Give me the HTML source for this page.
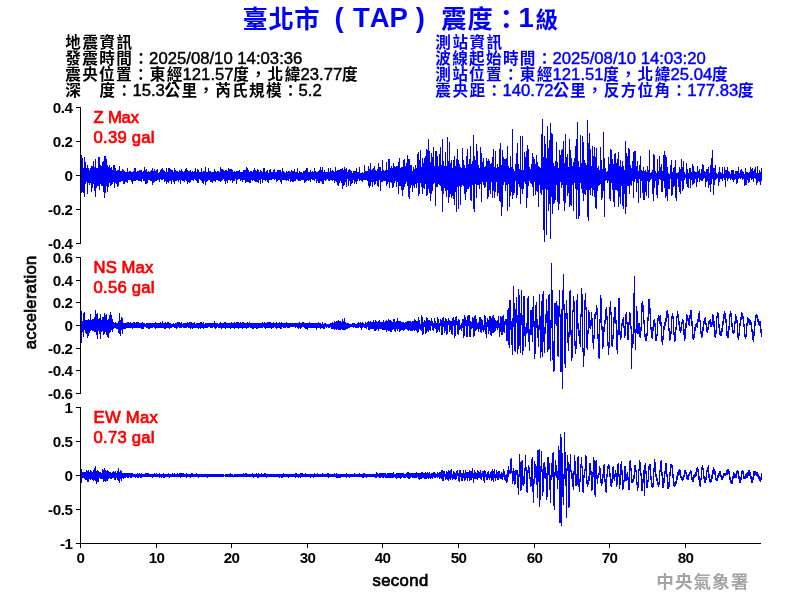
<!DOCTYPE html>
<html><head><meta charset="utf-8"><title>TAP</title>
<style>
html,body{margin:0;padding:0;background:#fff;}
svg{display:block;will-change:transform;font-family:"Liberation Sans",sans-serif;font-kerning:none;}
text{white-space:pre;}
.cjk{font-family:"Liberation Sans","Noto Sans CJK TC",sans-serif;font-weight:bold;}
</style></head><body>
<svg width="800" height="600" viewBox="0 0 800 600">
<rect width="800" height="600" fill="#fff"/>
<path d="M81.5 155V193M82.5 158V192M83.5 168V193M84.5 157V197M85.5 162V184M86.5 168V182M87.5 165V194M88.5 168V183M89.5 170V185M90.5 168V183M91.5 166V192M92.5 166V188M93.5 161V184M94.5 167V191M95.5 159V197M96.5 168V188M97.5 168V186M98.5 157V186M99.5 157V190M100.5 165V184M101.5 166V186M102.5 162V186M103.5 161V192M104.5 156V198M105.5 156V193M106.5 159V186M107.5 165V192M108.5 167V187M109.5 165V183M110.5 168V186M111.5 167V185M112.5 170V184M113.5 165V182M114.5 165V188M115.5 168V183M116.5 171V184M117.5 170V187M118.5 170V186M119.5 166V182M120.5 171V182M121.5 171V181M122.5 169V181M123.5 170V184M124.5 171V184M125.5 172V182M126.5 172V182M127.5 168V183M128.5 172V180M129.5 171V180M130.5 171V180M131.5 172V182M132.5 172V184M133.5 171V181M134.5 168V181M135.5 168V181M136.5 172V180M137.5 171V180M138.5 171V181M139.5 170V181M140.5 170V181M141.5 170V182M142.5 172V179M143.5 171V181M144.5 167V181M145.5 170V184M146.5 169V184M147.5 172V183M148.5 171V180M149.5 172V180M150.5 171V181M151.5 170V181M152.5 168V185M153.5 171V183M154.5 169V182M155.5 171V181M156.5 170V181M157.5 169V180M158.5 173V180M159.5 172V182M160.5 170V179M161.5 169V180M162.5 168V180M163.5 170V179M164.5 171V182M165.5 172V181M166.5 168V184M167.5 172V182M168.5 168V183M169.5 168V181M170.5 169V181M171.5 170V184M172.5 170V180M173.5 172V182M174.5 168V184M175.5 170V181M176.5 171V181M177.5 171V180M178.5 172V182M179.5 170V180M180.5 171V184M181.5 169V180M182.5 171V181M183.5 172V181M184.5 171V182M185.5 169V180M186.5 168V181M187.5 170V184M188.5 171V182M189.5 171V183M190.5 170V182M191.5 172V180M192.5 171V180M193.5 172V181M194.5 171V179M195.5 168V180M196.5 172V181M197.5 169V183M198.5 170V183M199.5 172V179M200.5 172V180M201.5 168V181M202.5 172V183M203.5 171V184M204.5 171V181M205.5 167V185M206.5 172V182M207.5 172V181M208.5 168V180M209.5 171V180M210.5 171V182M211.5 172V182M212.5 172V183M213.5 172V181M214.5 169V181M215.5 171V182M216.5 172V180M217.5 171V180M218.5 171V181M219.5 172V181M220.5 167V182M221.5 169V181M222.5 169V180M223.5 170V179M224.5 171V181M225.5 170V184M226.5 170V181M227.5 171V183M228.5 168V180M229.5 169V180M230.5 169V181M231.5 169V180M232.5 170V183M233.5 172V181M234.5 171V181M235.5 172V179M236.5 171V184M237.5 171V180M238.5 171V179M239.5 170V179M240.5 172V181M241.5 172V180M242.5 172V182M243.5 170V180M244.5 170V180M245.5 170V183M246.5 167V182M247.5 168V182M248.5 170V182M249.5 172V183M250.5 171V183M251.5 171V180M252.5 172V181M253.5 170V180M254.5 168V181M255.5 170V182M256.5 171V182M257.5 169V182M258.5 170V183M259.5 172V180M260.5 170V184M261.5 171V179M262.5 172V183M263.5 168V180M264.5 168V180M265.5 172V181M266.5 171V180M267.5 170V182M268.5 173V183M269.5 170V180M270.5 169V180M271.5 172V180M272.5 172V179M273.5 170V179M274.5 169V180M275.5 172V179M276.5 172V182M277.5 170V181M278.5 170V180M279.5 170V180M280.5 170V182M281.5 172V184M282.5 168V180M283.5 171V180M284.5 172V180M285.5 173V180M286.5 171V181M287.5 172V180M288.5 171V181M289.5 171V179M290.5 172V182M291.5 170V181M292.5 171V182M293.5 171V182M294.5 169V181M295.5 172V181M296.5 172V179M297.5 168V180M298.5 173V181M299.5 171V181M300.5 172V181M301.5 172V180M302.5 173V180M303.5 171V180M304.5 171V183M305.5 170V182M306.5 168V181M307.5 168V180M308.5 172V181M309.5 172V180M310.5 170V182M311.5 172V179M312.5 171V180M313.5 172V180M314.5 168V181M315.5 171V179M316.5 172V183M317.5 172V181M318.5 171V183M319.5 170V183M320.5 167V181M321.5 170V182M322.5 167V184M323.5 172V184M324.5 170V180M325.5 172V181M326.5 172V180M327.5 172V179M328.5 168V181M329.5 172V181M330.5 168V180M331.5 171V180M332.5 170V181M333.5 171V180M334.5 172V183M335.5 167V181M336.5 171V182M337.5 170V185M338.5 170V186M339.5 170V183M340.5 169V181M341.5 169V183M342.5 168V189M343.5 170V186M344.5 167V185M345.5 169V182M346.5 168V187M347.5 172V179M348.5 170V186M349.5 169V181M350.5 170V186M351.5 171V184M352.5 173V183M353.5 171V180M354.5 171V184M355.5 171V182M356.5 168V184M357.5 172V181M358.5 172V179M359.5 167V181M360.5 173V180M361.5 173V181M362.5 172V182M363.5 173V180M364.5 165V180M365.5 171V180M366.5 171V180M367.5 171V181M368.5 166V186M369.5 169V188M370.5 163V186M371.5 170V182M372.5 169V187M373.5 168V182M374.5 166V185M375.5 170V184M376.5 171V181M377.5 169V186M378.5 163V187M379.5 167V180M380.5 167V191M381.5 171V182M382.5 160V182M383.5 170V181M384.5 171V181M385.5 170V181M386.5 162V186M387.5 170V184M388.5 159V182M389.5 159V188M390.5 168V182M391.5 166V183M392.5 168V188M393.5 163V187M394.5 166V183M395.5 167V181M396.5 166V187M397.5 166V182M398.5 162V194M399.5 158V186M400.5 168V186M401.5 167V190M402.5 167V196M403.5 160V190M404.5 159V187M405.5 166V184M406.5 163V182M407.5 155V186M408.5 159V197M409.5 159V199M410.5 165V188M411.5 165V185M412.5 171V192M413.5 167V186M414.5 169V188M415.5 165V184M416.5 168V188M417.5 154V183M418.5 152V196M419.5 160V194M420.5 150V183M421.5 167V187M422.5 158V194M423.5 163V188M424.5 158V189M425.5 156V184M426.5 149V196M427.5 150V195M428.5 139V189M429.5 151V193M430.5 162V201M431.5 153V194M432.5 157V191M433.5 147V184M434.5 166V183M435.5 151V206M436.5 151V187M437.5 156V187M438.5 166V184M439.5 154V185M440.5 147V186M441.5 165V191M442.5 139V212M443.5 161V194M444.5 166V188M445.5 152V191M446.5 166V197M447.5 137V190M448.5 161V203M449.5 142V197M450.5 163V194M451.5 160V198M452.5 168V196M453.5 160V199M454.5 156V205M455.5 166V192M456.5 159V212M457.5 149V187M458.5 160V209M459.5 164V186M460.5 167V205M461.5 168V187M462.5 148V185M463.5 160V186M464.5 165V194M465.5 168V200M466.5 156V192M467.5 149V189M468.5 164V189M469.5 159V187M470.5 146V200M471.5 164V201M472.5 161V185M473.5 135V209M474.5 156V212M475.5 160V184M476.5 144V198M477.5 151V185M478.5 165V185M479.5 168V189M480.5 147V184M481.5 153V202M482.5 162V182M483.5 158V185M484.5 167V188M485.5 166V187M486.5 158V182M487.5 161V199M488.5 159V197M489.5 161V190M490.5 164V194M491.5 163V182M492.5 157V198M493.5 149V191M494.5 167V198M495.5 151V192M496.5 168V182M497.5 164V196M498.5 167V193M499.5 149V201M500.5 143V202M501.5 165V216M502.5 150V207M503.5 157V185M504.5 159V182M505.5 159V191M506.5 158V185M507.5 146V211M508.5 166V184M509.5 168V207M510.5 156V196M511.5 167V192M512.5 129V199M513.5 169V195M514.5 171V193M515.5 164V181M516.5 153V198M517.5 143V195M518.5 164V184M519.5 169V187M520.5 136V204M521.5 170V189M522.5 136V194M523.5 170V189M524.5 152V182M525.5 157V184M526.5 151V208M527.5 145V198M528.5 149V186M529.5 167V181M530.5 169V183M531.5 164V184M532.5 153V187M533.5 157V196M534.5 159V182M535.5 164V195M536.5 155V191M537.5 162V192M538.5 166V207M539.5 167V185M540.5 168V193M541.5 134V195M542.5 119V190M543.5 157V230M544.5 136V242M545.5 144V189M546.5 158V235M547.5 126V190M548.5 148V211M549.5 140V204M550.5 123V239M551.5 133V197M552.5 134V214M553.5 163V204M554.5 166V203M555.5 161V200M556.5 142V185M557.5 162V202M558.5 168V210M559.5 150V204M560.5 155V182M561.5 150V188M562.5 149V185M563.5 141V201M564.5 163V211M565.5 134V203M566.5 157V185M567.5 154V196M568.5 167V193M569.5 139V207M570.5 150V205M571.5 158V206M572.5 166V185M573.5 162V211M574.5 158V183M575.5 146V189M576.5 139V219M577.5 122V190M578.5 161V219M579.5 167V216M580.5 135V183M581.5 163V189M582.5 136V193M583.5 142V201M584.5 160V194M585.5 163V195M586.5 165V190M587.5 120V217M588.5 143V221M589.5 133V190M590.5 149V195M591.5 166V188M592.5 146V196M593.5 156V190M594.5 147V197M595.5 157V208M596.5 148V209M597.5 168V191M598.5 166V186M599.5 170V185M600.5 147V184M601.5 160V200M602.5 169V198M603.5 132V191M604.5 158V217M605.5 168V181M606.5 172V180M607.5 171V183M608.5 157V181M609.5 164V199M610.5 149V201M611.5 150V183M612.5 159V190M613.5 164V202M614.5 154V207M615.5 153V190M616.5 163V190M617.5 159V191M618.5 152V207M619.5 166V197M620.5 160V204M621.5 167V186M622.5 161V206M623.5 166V209M624.5 170V194M625.5 141V214M626.5 153V207M627.5 156V186M628.5 148V186M629.5 149V194M630.5 165V185M631.5 168V186M632.5 161V181M633.5 152V198M634.5 151V182M635.5 151V179M636.5 166V192M637.5 161V183M638.5 171V203M639.5 165V179M640.5 156V198M641.5 170V181M642.5 171V193M643.5 167V200M644.5 171V200M645.5 170V192M646.5 172V196M647.5 166V181M648.5 170V198M649.5 150V182M650.5 173V180M651.5 172V179M652.5 170V194M653.5 154V201M654.5 155V188M655.5 171V181M656.5 173V195M657.5 159V198M658.5 171V185M659.5 156V179M660.5 167V180M661.5 164V192M662.5 171V192M663.5 155V181M664.5 151V188M665.5 155V198M666.5 157V196M667.5 167V201M668.5 173V189M669.5 174V189M670.5 165V179M671.5 160V196M672.5 172V195M673.5 168V187M674.5 167V186M675.5 160V198M676.5 173V201M677.5 173V179M678.5 172V187M679.5 167V192M680.5 169V194M681.5 159V181M682.5 167V191M683.5 161V189M684.5 172V180M685.5 174V178M686.5 163V184M687.5 169V187M688.5 173V188M689.5 168V179M690.5 168V188M691.5 172V180M692.5 164V185M693.5 166V184M694.5 171V183M695.5 172V179M696.5 172V187M697.5 166V182M698.5 171V178M699.5 169V182M700.5 173V180M701.5 169V181M702.5 164V181M703.5 165V179M704.5 171V178M705.5 172V187M706.5 169V182M707.5 169V181M708.5 167V188M709.5 173V185M710.5 165V192M711.5 158V184M712.5 150V179M713.5 168V195M714.5 168V185M715.5 165V180M716.5 173V179M717.5 174V178M718.5 172V186M719.5 167V182M720.5 172V179M721.5 173V179M722.5 167V181M723.5 174V178M724.5 167V180M725.5 170V187M726.5 170V178M727.5 167V181M728.5 171V179M729.5 172V178M730.5 174V180M731.5 170V179M732.5 170V180M733.5 170V182M734.5 174V180M735.5 171V179M736.5 171V184M737.5 171V183M738.5 167V179M739.5 173V178M740.5 170V179M741.5 169V178M742.5 171V180M743.5 172V179M744.5 174V186M745.5 168V185M746.5 172V185M747.5 172V180M748.5 173V183M749.5 172V182M750.5 167V178M751.5 169V180M752.5 168V179M753.5 171V182M754.5 169V178M755.5 167V179M756.5 173V185M757.5 166V183M758.5 173V181M759.5 170V182M760.5 172V185M761.5 168V181" stroke="#0000ff" stroke-width="1" fill="none" shape-rendering="crispEdges"/><path d="M81.5 311V343M82.5 321V332M83.5 313V337M84.5 312V330M85.5 320V333M86.5 320V334M87.5 320V338M88.5 319V336M89.5 320V333M90.5 314V331M91.5 320V330M92.5 319V331M93.5 319V331M94.5 317V332M95.5 310V332M96.5 314V335M97.5 313V339M98.5 319V331M99.5 318V334M100.5 314V339M101.5 320V332M102.5 317V331M103.5 317V335M104.5 313V334M105.5 315V332M106.5 314V335M107.5 320V337M108.5 319V338M109.5 315V333M110.5 312V332M111.5 315V330M112.5 319V332M113.5 322V329M114.5 323V328M115.5 322V328M116.5 323V329M117.5 323V329M118.5 321V333M119.5 313V334M120.5 320V336M121.5 317V330M122.5 318V334M123.5 323V329M124.5 323V329M125.5 323V329M126.5 323V328M127.5 322V328M128.5 322V328M129.5 323V328M130.5 322V328M131.5 323V328M132.5 323V329M133.5 322V328M134.5 322V328M135.5 323V328M136.5 322V328M137.5 322V328M138.5 322V328M139.5 323V328M140.5 323V328M141.5 323V329M142.5 322V329M143.5 323V329M144.5 323V327M145.5 324V327M146.5 323V328M147.5 323V328M148.5 323V329M149.5 323V329M150.5 323V328M151.5 323V328M152.5 323V328M153.5 323V327M154.5 323V328M155.5 322V329M156.5 323V328M157.5 323V328M158.5 323V328M159.5 323V328M160.5 322V328M161.5 323V328M162.5 321V328M163.5 323V328M164.5 323V329M165.5 322V329M166.5 323V328M167.5 322V328M168.5 322V328M169.5 323V329M170.5 323V328M171.5 324V328M172.5 324V327M173.5 323V327M174.5 324V328M175.5 323V328M176.5 323V329M177.5 322V328M178.5 322V327M179.5 322V328M180.5 323V328M181.5 322V328M182.5 324V327M183.5 323V328M184.5 323V328M185.5 323V328M186.5 323V328M187.5 322V327M188.5 323V328M189.5 322V328M190.5 322V329M191.5 322V328M192.5 323V329M193.5 323V328M194.5 322V328M195.5 324V328M196.5 323V328M197.5 323V328M198.5 323V329M199.5 323V328M200.5 322V329M201.5 322V328M202.5 323V328M203.5 322V329M204.5 324V328M205.5 323V328M206.5 323V328M207.5 323V328M208.5 323V327M209.5 323V327M210.5 323V328M211.5 323V328M212.5 323V328M213.5 323V327M214.5 321V328M215.5 323V329M216.5 323V328M217.5 323V327M218.5 324V328M219.5 323V328M220.5 322V328M221.5 323V329M222.5 323V328M223.5 323V328M224.5 322V328M225.5 322V329M226.5 323V328M227.5 323V328M228.5 323V328M229.5 323V328M230.5 323V329M231.5 322V328M232.5 323V328M233.5 323V328M234.5 322V329M235.5 323V328M236.5 322V328M237.5 322V328M238.5 322V329M239.5 323V328M240.5 322V328M241.5 323V328M242.5 322V329M243.5 322V328M244.5 323V328M245.5 323V328M246.5 323V329M247.5 322V328M248.5 323V328M249.5 322V327M250.5 323V328M251.5 323V328M252.5 323V329M253.5 323V329M254.5 323V328M255.5 323V328M256.5 323V329M257.5 323V329M258.5 323V328M259.5 323V328M260.5 323V328M261.5 323V328M262.5 322V328M263.5 323V327M264.5 322V328M265.5 323V329M266.5 323V328M267.5 322V328M268.5 322V328M269.5 322V328M270.5 322V328M271.5 323V329M272.5 323V328M273.5 322V328M274.5 323V327M275.5 323V328M276.5 322V329M277.5 323V328M278.5 323V328M279.5 322V328M280.5 323V329M281.5 322V329M282.5 323V327M283.5 323V328M284.5 323V328M285.5 323V328M286.5 322V327M287.5 323V328M288.5 323V328M289.5 323V328M290.5 323V327M291.5 323V327M292.5 323V327M293.5 323V327M294.5 323V327M295.5 323V328M296.5 323V327M297.5 323V328M298.5 323V329M299.5 322V328M300.5 323V329M301.5 323V328M302.5 322V327M303.5 322V327M304.5 323V328M305.5 323V329M306.5 323V329M307.5 323V330M308.5 323V328M309.5 322V328M310.5 323V328M311.5 323V328M312.5 323V328M313.5 323V328M314.5 323V328M315.5 323V328M316.5 323V330M317.5 323V328M318.5 322V328M319.5 323V328M320.5 323V329M321.5 324V328M322.5 322V328M323.5 324V329M324.5 323V329M325.5 323V327M326.5 324V328M327.5 324V327M328.5 324V328M329.5 324V328M330.5 323V327M331.5 323V329M332.5 322V329M333.5 323V329M334.5 321V330M335.5 322V329M336.5 321V330M337.5 321V329M338.5 320V330M339.5 321V330M340.5 321V330M341.5 322V329M342.5 319V330M343.5 321V330M344.5 318V330M345.5 322V330M346.5 323V329M347.5 323V329M348.5 323V328M349.5 324V328M350.5 324V327M351.5 324V327M352.5 323V327M353.5 323V328M354.5 323V327M355.5 324V328M356.5 324V328M357.5 323V328M358.5 322V328M359.5 323V327M360.5 322V328M361.5 323V330M362.5 322V328M363.5 323V327M364.5 324V328M365.5 322V328M366.5 323V329M367.5 322V327M368.5 321V330M369.5 322V330M370.5 321V329M371.5 322V329M372.5 322V329M373.5 320V329M374.5 322V331M375.5 320V331M376.5 321V330M377.5 322V329M378.5 321V331M379.5 320V329M380.5 322V329M381.5 322V329M382.5 322V330M383.5 320V330M384.5 322V330M385.5 321V330M386.5 320V332M387.5 321V330M388.5 319V331M389.5 320V331M390.5 320V332M391.5 321V332M392.5 322V330M393.5 319V329M394.5 319V331M395.5 322V332M396.5 321V329M397.5 318V331M398.5 321V329M399.5 321V332M400.5 321V331M401.5 322V330M402.5 322V330M403.5 322V331M404.5 323V330M405.5 322V329M406.5 322V329M407.5 321V330M408.5 321V331M409.5 321V330M410.5 321V331M411.5 322V331M412.5 321V331M413.5 321V330M414.5 319V331M415.5 320V330M416.5 321V331M417.5 321V333M418.5 317V332M419.5 320V329M420.5 324V330M421.5 315V331M422.5 317V335M423.5 322V334M424.5 320V327M425.5 321V334M426.5 317V333M427.5 318V331M428.5 320V332M429.5 320V330M430.5 321V331M431.5 318V326M432.5 321V330M433.5 323V331M434.5 318V328M435.5 321V329M436.5 323V333M437.5 317V332M438.5 319V330M439.5 323V332M440.5 319V326M441.5 320V335M442.5 318V335M443.5 317V327M444.5 321V333M445.5 318V331M446.5 319V335M447.5 321V334M448.5 318V325M449.5 320V332M450.5 321V330M451.5 321V334M452.5 318V335M453.5 317V326M454.5 320V338M455.5 317V336M456.5 316V325M457.5 321V334M458.5 319V335M459.5 320V330M460.5 325V329M461.5 323V331M462.5 319V328M463.5 319V338M464.5 315V336M465.5 317V326M466.5 320V337M467.5 316V337M468.5 315V326M469.5 315V337M470.5 321V337M471.5 322V329M472.5 317V328M473.5 318V337M474.5 316V336M475.5 315V331M476.5 319V330M477.5 323V329M478.5 322V332M479.5 317V329M480.5 317V332M481.5 319V333M482.5 320V330M483.5 325V332M484.5 315V330M485.5 316V334M486.5 322V338M487.5 318V327M488.5 320V334M489.5 316V331M490.5 316V335M491.5 318V336M492.5 316V333M493.5 315V333M494.5 318V332M495.5 320V331M496.5 321V328M497.5 320V330M498.5 316V328M499.5 323V337M500.5 316V332M501.5 317V335M502.5 316V335M503.5 315V332M504.5 321V333M505.5 319V325M506.5 319V341M507.5 310V341M508.5 308V345M509.5 300V348M510.5 300V330M511.5 321V345M512.5 318V355M513.5 286V327M514.5 303V351M515.5 309V352M516.5 297V323M517.5 315V354M518.5 289V349M519.5 295V346M520.5 313V353M521.5 290V325M522.5 315V355M523.5 296V351M524.5 296V336M525.5 327V347M526.5 323V334M527.5 298V333M528.5 296V342M529.5 329V351M530.5 310V335M531.5 310V335M532.5 307V342M533.5 296V327M534.5 321V359M535.5 305V354M536.5 302V328M537.5 319V338M538.5 325V347M539.5 294V330M540.5 316V358M541.5 301V352M542.5 294V357M543.5 291V342M544.5 327V353M545.5 314V334M546.5 299V323M547.5 311V352M548.5 295V350M549.5 294V349M550.5 320V361M551.5 263V328M552.5 290V360M553.5 341V372M554.5 303V371M555.5 303V324M556.5 301V326M557.5 305V356M558.5 306V357M559.5 290V317M560.5 314V372M561.5 309V372M562.5 290V389M563.5 274V310M564.5 304V364M565.5 313V368M566.5 300V319M567.5 313V343M568.5 332V351M569.5 291V337M570.5 290V335M571.5 330V361M572.5 310V358M573.5 296V312M574.5 301V346M575.5 341V354M576.5 300V349M577.5 294V329M578.5 323V336M579.5 330V344M580.5 314V347M581.5 288V317M582.5 294V352M583.5 348V367M584.5 300V356M585.5 293V310M586.5 307V348M587.5 330V350M588.5 310V334M589.5 312V328M590.5 320V329M591.5 312V326M592.5 318V343M593.5 335V349M594.5 314V339M595.5 312V319M596.5 305V315M597.5 308V339M598.5 334V358M599.5 319V359M600.5 295V323M601.5 298V330M602.5 326V349M603.5 327V347M604.5 320V332M605.5 309V324M606.5 307V320M607.5 316V346M608.5 342V355M609.5 307V348M610.5 301V315M611.5 312V346M612.5 335V347M613.5 317V339M614.5 307V323M615.5 307V324M616.5 320V350M617.5 330V354M618.5 298V335M619.5 298V335M620.5 331V340M621.5 323V338M622.5 319V326M623.5 317V328M624.5 326V338M625.5 314V336M626.5 312V324M627.5 322V340M628.5 322V340M629.5 312V325M630.5 313V329M631.5 326V369M632.5 334V348M633.5 293V344M634.5 276V333M635.5 329V350M636.5 306V333M637.5 311V334M638.5 323V334M639.5 323V337M640.5 327V338M641.5 303V331M642.5 301V312M643.5 305V324M644.5 320V337M645.5 334V341M646.5 333V341M647.5 317V336M648.5 299V321M649.5 299V314M650.5 308V330M651.5 327V338M652.5 327V339M653.5 320V331M654.5 319V327M655.5 323V341M656.5 334V341M657.5 318V336M658.5 315V321M659.5 316V324M660.5 315V326M661.5 322V342M662.5 336V345M663.5 326V340M664.5 322V330M665.5 318V326M666.5 311V322M667.5 310V318M668.5 314V331M669.5 328V341M670.5 331V340M671.5 316V334M672.5 313V319M673.5 316V335M674.5 332V342M675.5 327V341M676.5 316V330M677.5 311V318M678.5 314V325M679.5 321V331M680.5 327V333M681.5 322V331M682.5 319V324M683.5 320V335M684.5 329V341M685.5 323V339M686.5 314V328M687.5 315V321M688.5 318V325M689.5 315V326M690.5 310V319M691.5 310V326M692.5 321V339M693.5 334V340M694.5 327V338M695.5 324V331M696.5 323V327M697.5 319V328M698.5 313V322M699.5 311V322M700.5 320V334M701.5 331V338M702.5 327V337M703.5 321V331M704.5 318V324M705.5 317V325M706.5 323V332M707.5 327V333M708.5 321V330M709.5 320V324M710.5 319V327M711.5 322V327M712.5 314V325M713.5 315V327M714.5 321V337M715.5 330V338M716.5 316V334M717.5 312V318M718.5 313V328M719.5 324V335M720.5 331V336M721.5 328V336M722.5 321V332M723.5 314V325M724.5 311V319M725.5 313V323M726.5 319V336M727.5 331V338M728.5 326V338M729.5 314V330M730.5 311V317M731.5 313V327M732.5 323V333M733.5 330V334M734.5 321V333M735.5 314V324M736.5 316V323M737.5 320V338M738.5 333V340M739.5 323V336M740.5 317V326M741.5 312V320M742.5 313V319M743.5 316V327M744.5 324V337M745.5 334V339M746.5 323V337M747.5 317V326M748.5 318V323M749.5 319V325M750.5 320V325M751.5 322V332M752.5 329V340M753.5 331V342M754.5 321V336M755.5 315V326M756.5 314V318M757.5 315V322M758.5 319V325M759.5 321V326M760.5 321V333M761.5 329V337" stroke="#0000ff" stroke-width="1" fill="none" shape-rendering="crispEdges"/><path d="M81.5 469V483M82.5 472V478M83.5 472V478M84.5 472V479M85.5 472V480M86.5 470V480M87.5 471V482M88.5 470V482M89.5 472V479M90.5 470V480M91.5 471V479M92.5 472V480M93.5 470V481M94.5 468V480M95.5 466V481M96.5 471V484M97.5 470V482M98.5 471V482M99.5 472V478M100.5 472V479M101.5 473V479M102.5 469V479M103.5 470V482M104.5 468V481M105.5 470V482M106.5 471V481M107.5 470V481M108.5 471V479M109.5 472V478M110.5 472V479M111.5 473V479M112.5 472V478M113.5 471V478M114.5 472V480M115.5 471V480M116.5 473V478M117.5 471V480M118.5 468V481M119.5 472V483M120.5 470V479M121.5 471V481M122.5 473V478M123.5 473V479M124.5 473V478M125.5 473V478M126.5 473V477M127.5 473V478M128.5 473V478M129.5 473V477M130.5 473V478M131.5 473V478M132.5 473V477M133.5 474V477M134.5 474V477M135.5 474V478M136.5 474V477M137.5 473V478M138.5 474V478M139.5 473V477M140.5 474V478M141.5 473V478M142.5 474V477M143.5 474V477M144.5 474V477M145.5 473V477M146.5 473V477M147.5 473V477M148.5 473V477M149.5 474V477M150.5 474V477M151.5 474V477M152.5 474V478M153.5 474V477M154.5 473V477M155.5 474V477M156.5 473V477M157.5 474V477M158.5 474V477M159.5 473V478M160.5 474V477M161.5 474V478M162.5 474V477M163.5 473V478M164.5 474V478M165.5 474V477M166.5 474V477M167.5 474V477M168.5 473V477M169.5 474V478M170.5 474V477M171.5 474V477M172.5 473V477M173.5 474V477M174.5 473V477M175.5 474V477M176.5 474V477M177.5 473V477M178.5 474V477M179.5 473V477M180.5 473V478M181.5 473V477M182.5 473V477M183.5 473V477M184.5 474V477M185.5 474V477M186.5 473V478M187.5 474V477M188.5 474V477M189.5 474V477M190.5 474V478M191.5 473V477M192.5 473V477M193.5 474V477M194.5 474V477M195.5 474V477M196.5 473V477M197.5 474V477M198.5 474V478M199.5 474V477M200.5 474V477M201.5 474V477M202.5 474V477M203.5 474V477M204.5 474V477M205.5 474V477M206.5 474V477M207.5 474V478M208.5 474V477M209.5 474V477M210.5 474V477M211.5 474V477M212.5 474V477M213.5 474V477M214.5 474V477M215.5 474V477M216.5 474V477M217.5 474V477M218.5 474V477M219.5 474V477M220.5 474V477M221.5 474V477M222.5 474V477M223.5 474V477M224.5 475V476M225.5 474V477M226.5 474V477M227.5 474V477M228.5 474V477M229.5 474V477M230.5 473V477M231.5 474V477M232.5 474V477M233.5 475V477M234.5 474V477M235.5 474V477M236.5 474V477M237.5 474V477M238.5 474V477M239.5 474V477M240.5 474V477M241.5 474V477M242.5 474V477M243.5 473V477M244.5 474V477M245.5 473V477M246.5 473V477M247.5 474V477M248.5 474V477M249.5 474V477M250.5 474V477M251.5 474V477M252.5 473V477M253.5 474V478M254.5 474V477M255.5 474V477M256.5 473V477M257.5 474V478M258.5 473V478M259.5 474V477M260.5 474V477M261.5 473V477M262.5 474V477M263.5 474V477M264.5 473V477M265.5 473V477M266.5 474V478M267.5 474V477M268.5 474V477M269.5 474V477M270.5 474V477M271.5 474V477M272.5 474V477M273.5 474V477M274.5 474V477M275.5 474V477M276.5 474V477M277.5 474V477M278.5 474V477M279.5 474V478M280.5 474V477M281.5 474V478M282.5 474V478M283.5 473V477M284.5 474V477M285.5 474V477M286.5 474V477M287.5 474V477M288.5 474V478M289.5 474V477M290.5 474V477M291.5 474V477M292.5 474V477M293.5 474V477M294.5 474V477M295.5 473V478M296.5 473V477M297.5 474V477M298.5 474V478M299.5 474V477M300.5 473V478M301.5 473V477M302.5 473V477M303.5 474V477M304.5 474V477M305.5 473V477M306.5 474V477M307.5 474V477M308.5 474V477M309.5 474V477M310.5 474V478M311.5 474V477M312.5 474V477M313.5 474V478M314.5 473V477M315.5 474V477M316.5 474V477M317.5 473V477M318.5 474V477M319.5 474V477M320.5 474V477M321.5 474V477M322.5 473V477M323.5 474V477M324.5 474V477M325.5 474V477M326.5 474V477M327.5 473V477M328.5 473V478M329.5 474V477M330.5 474V477M331.5 474V477M332.5 474V477M333.5 474V477M334.5 473V477M335.5 474V477M336.5 473V478M337.5 474V478M338.5 474V478M339.5 474V478M340.5 474V478M341.5 474V477M342.5 474V477M343.5 474V477M344.5 474V477M345.5 474V477M346.5 473V478M347.5 474V477M348.5 474V477M349.5 474V478M350.5 474V477M351.5 474V477M352.5 474V477M353.5 474V477M354.5 473V477M355.5 474V477M356.5 474V477M357.5 474V477M358.5 474V477M359.5 473V477M360.5 474V477M361.5 474V477M362.5 474V478M363.5 473V478M364.5 473V477M365.5 474V477M366.5 474V478M367.5 474V477M368.5 474V477M369.5 474V477M370.5 474V477M371.5 474V477M372.5 474V477M373.5 474V477M374.5 474V477M375.5 474V478M376.5 472V478M377.5 473V477M378.5 474V477M379.5 473V478M380.5 473V478M381.5 473V477M382.5 473V478M383.5 473V478M384.5 473V477M385.5 473V478M386.5 474V478M387.5 473V478M388.5 473V478M389.5 473V478M390.5 473V478M391.5 473V478M392.5 473V478M393.5 472V478M394.5 474V477M395.5 474V478M396.5 473V479M397.5 473V478M398.5 473V478M399.5 473V478M400.5 473V479M401.5 473V478M402.5 473V477M403.5 473V478M404.5 474V478M405.5 474V478M406.5 473V477M407.5 472V478M408.5 472V479M409.5 473V479M410.5 473V478M411.5 473V477M412.5 473V478M413.5 473V478M414.5 473V478M415.5 473V478M416.5 472V478M417.5 473V477M418.5 473V479M419.5 473V480M420.5 473V479M421.5 472V479M422.5 472V478M423.5 473V478M424.5 473V479M425.5 472V479M426.5 473V479M427.5 472V478M428.5 473V479M429.5 472V478M430.5 474V479M431.5 473V478M432.5 473V479M433.5 472V477M434.5 472V478M435.5 473V478M436.5 474V477M437.5 472V478M438.5 473V477M439.5 472V479M440.5 472V478M441.5 470V479M442.5 470V481M443.5 471V481M444.5 471V477M445.5 474V480M446.5 471V479M447.5 472V480M448.5 470V481M449.5 471V479M450.5 470V480M451.5 469V478M452.5 474V480M453.5 471V479M454.5 472V479M455.5 473V480M456.5 471V479M457.5 470V476M458.5 473V481M459.5 470V482M460.5 470V477M461.5 473V481M462.5 473V481M463.5 470V478M464.5 473V481M465.5 470V480M466.5 472V478M467.5 472V481M468.5 472V478M469.5 470V481M470.5 471V480M471.5 471V480M472.5 468V478M473.5 473V483M474.5 470V479M475.5 472V479M476.5 473V479M477.5 470V480M478.5 471V478M479.5 472V478M480.5 470V479M481.5 473V480M482.5 471V477M483.5 471V481M484.5 470V483M485.5 471V477M486.5 474V480M487.5 472V480M488.5 471V478M489.5 474V480M490.5 472V478M491.5 471V481M492.5 469V480M493.5 471V482M494.5 469V478M495.5 474V481M496.5 470V478M497.5 472V480M498.5 471V480M499.5 471V478M500.5 474V479M501.5 472V479M502.5 473V480M503.5 469V477M504.5 471V480M505.5 475V481M506.5 474V483M507.5 470V482M508.5 466V477M509.5 470V474M510.5 459V474M511.5 458V473M512.5 471V484M513.5 468V481M514.5 471V485M515.5 470V484M516.5 470V475M517.5 470V488M518.5 474V495M519.5 454V477M520.5 462V491M521.5 461V490M522.5 460V485M523.5 476V486M524.5 468V484M525.5 455V471M526.5 467V492M527.5 470V493M528.5 465V473M529.5 467V479M530.5 477V487M531.5 459V486M532.5 457V492M533.5 479V503M534.5 461V484M535.5 464V478M536.5 466V485M537.5 450V498M538.5 450V482M539.5 449V507M540.5 466V500M541.5 451V472M542.5 469V496M543.5 463V492M544.5 462V478M545.5 467V479M546.5 473V500M547.5 457V497M548.5 457V475M549.5 463V490M550.5 475V503M551.5 463V480M552.5 453V477M553.5 452V506M554.5 472V510M555.5 460V476M556.5 465V478M557.5 471V489M558.5 446V480M559.5 450V523M560.5 434V523M561.5 437V526M562.5 453V497M563.5 474V505M564.5 432V479M565.5 452V486M566.5 468V518M567.5 455V471M568.5 462V508M569.5 464V507M570.5 454V472M571.5 470V479M572.5 473V487M573.5 471V490M574.5 455V475M575.5 461V486M576.5 474V486M577.5 457V485M578.5 456V487M579.5 479V492M580.5 464V482M581.5 457V468M582.5 466V492M583.5 475V493M584.5 469V478M585.5 455V471M586.5 456V484M587.5 480V487M588.5 476V485M589.5 463V481M590.5 463V475M591.5 471V491M592.5 472V490M593.5 457V477M594.5 460V495M595.5 461V497M596.5 460V479M597.5 475V484M598.5 473V478M599.5 466V475M600.5 468V483M601.5 479V486M602.5 474V484M603.5 465V478M604.5 464V482M605.5 479V492M606.5 474V493M607.5 466V477M608.5 464V469M609.5 465V477M610.5 473V486M611.5 479V487M612.5 467V483M613.5 466V479M614.5 474V481M615.5 470V477M616.5 473V487M617.5 464V485M618.5 463V477M619.5 474V489M620.5 464V485M621.5 461V475M622.5 470V490M623.5 480V489M624.5 466V482M625.5 466V481M626.5 474V481M627.5 472V480M628.5 477V490M629.5 461V490M630.5 460V471M631.5 468V483M632.5 479V483M633.5 475V482M634.5 465V479M635.5 465V472M636.5 470V485M637.5 482V491M638.5 469V488M639.5 460V471M640.5 462V476M641.5 473V491M642.5 479V491M643.5 470V483M644.5 465V496M645.5 463V474M646.5 471V488M647.5 480V488M648.5 466V482M649.5 464V470M650.5 464V480M651.5 476V487M652.5 483V488M653.5 468V487M654.5 459V472M655.5 462V477M656.5 474V481M657.5 478V485M658.5 482V487M659.5 470V485M660.5 461V472M661.5 460V476M662.5 472V488M663.5 478V488M664.5 471V483M665.5 463V474M666.5 463V477M667.5 474V489M668.5 482V489M669.5 472V487M670.5 464V476M671.5 464V468M672.5 465V478M673.5 474V486M674.5 482V487M675.5 481V486M676.5 476V484M677.5 472V480M678.5 470V476M679.5 469V475M680.5 470V478M681.5 476V480M682.5 477V481M683.5 475V480M684.5 470V477M685.5 470V474M686.5 472V479M687.5 475V480M688.5 474V480M689.5 472V476M690.5 470V474M691.5 471V480M692.5 477V482M693.5 475V482M694.5 474V478M695.5 472V477M696.5 468V476M697.5 467V472M698.5 469V480M699.5 476V486M700.5 478V487M701.5 467V480M702.5 465V470M703.5 468V479M704.5 476V483M705.5 477V483M706.5 470V480M707.5 467V472M708.5 465V478M709.5 474V482M710.5 479V483M711.5 475V482M712.5 470V479M713.5 467V474M714.5 469V475M715.5 471V480M716.5 478V481M717.5 475V481M718.5 473V478M719.5 471V476M720.5 471V477M721.5 475V480M722.5 476V480M723.5 473V478M724.5 473V476M725.5 473V476M726.5 470V475M727.5 469V475M728.5 469V474M729.5 471V480M730.5 477V483M731.5 480V484M732.5 476V484M733.5 472V479M734.5 473V478M735.5 474V478M736.5 471V478M737.5 470V474M738.5 471V479M739.5 476V483M740.5 477V483M741.5 471V480M742.5 470V474M743.5 471V479M744.5 476V479M745.5 474V479M746.5 473V478M747.5 472V478M748.5 470V476M749.5 470V476M750.5 472V479M751.5 476V483M752.5 477V483M753.5 471V480M754.5 471V476M755.5 471V475M756.5 472V476M757.5 472V477M758.5 474V479M759.5 476V481M760.5 477V482M761.5 473V480" stroke="#0000ff" stroke-width="1" fill="none" shape-rendering="crispEdges"/>
<text class="cjk" x="242.5" y="28.2" font-size="25.3" textLength="77.1" fill="#0000ff">臺北市</text>
<text x="334.6" y="26.5" font-size="27.5" fill="#0000ff" text-anchor="start" font-weight="bold">(</text>
<text x="352.9" y="26.5" font-size="27.5" fill="#0000ff" text-anchor="start" font-weight="bold">TAP</text>
<text x="415.8" y="26.5" font-size="27.5" fill="#0000ff" text-anchor="start" font-weight="bold">)</text>
<text class="cjk" x="441.3" y="28.2" font-size="25.3" textLength="51.4" fill="#0000ff">震度</text>
<text class="cjk" x="493" y="28.5" font-size="26.67" textLength="26.7" fill="#0000ff">：</text>
<text x="518.5" y="26.5" font-size="27.5" fill="#0000ff" text-anchor="start" font-weight="bold">1</text>
<text class="cjk" x="535.5" y="27.5" font-size="22.5" textLength="22.5" fill="#0000ff">級</text>
<text class="cjk" x="65.3" y="47.599999999999994" font-size="15.6" textLength="66.9" fill="#000000">地震資訊</text>
<text class="cjk" x="65.3" y="63.8" font-size="15.6" textLength="83.6" fill="#000000">發震時間：</text>
<text x="149.1" y="63.5" font-size="16.72" fill="#000000" text-anchor="start" font-weight="normal" stroke="#000000" stroke-width="0.45">2025/08/10 14:03:36</text>
<text class="cjk" x="65.3" y="80.0" font-size="15.6" textLength="117.0" fill="#000000">震央位置：東經</text>
<text x="182.54" y="79.7" font-size="16.72" fill="#000000" text-anchor="start" font-weight="normal" stroke="#000000" stroke-width="0.45">121.57</text>
<text class="cjk" x="233.34" y="80.0" font-size="15.6" textLength="66.9" fill="#000000">度，北緯</text>
<text x="300.41999999999996" y="79.7" font-size="16.72" fill="#000000" text-anchor="start" font-weight="normal" stroke="#000000" stroke-width="0.45">23.77</text>
<text class="cjk" x="341.91999999999996" y="80.0" font-size="15.6" textLength="16.7" fill="#000000">度</text>
<text class="cjk" x="65.3" y="96.3" font-size="15.6" textLength="66.9" fill="#000000">深　度：</text>
<text x="132.38" y="96" font-size="16.72" fill="#000000" text-anchor="start" font-weight="normal" stroke="#000000" stroke-width="0.45">15.3</text>
<text class="cjk" x="164.58" y="96.3" font-size="15.6" textLength="133.8" fill="#000000">公里，芮氏規模：</text>
<text x="298.53999999999996" y="96" font-size="16.72" fill="#000000" text-anchor="start" font-weight="normal" stroke="#000000" stroke-width="0.45">5.2</text>
<text class="cjk" x="435.3" y="47.599999999999994" font-size="15.6" textLength="66.9" fill="#0000ff">測站資訊</text>
<text class="cjk" x="435.3" y="63.8" font-size="15.6" textLength="117.0" fill="#0000ff">波線起始時間：</text>
<text x="552.54" y="63.5" font-size="16.72" fill="#0000ff" text-anchor="start" font-weight="normal" stroke="#0000ff" stroke-width="0.45">2025/08/10 14:03:20</text>
<text class="cjk" x="435.3" y="80.0" font-size="15.6" textLength="117.0" fill="#0000ff">測站位置：東經</text>
<text x="552.54" y="79.7" font-size="16.72" fill="#0000ff" text-anchor="start" font-weight="normal" stroke="#0000ff" stroke-width="0.45">121.51</text>
<text class="cjk" x="603.3399999999999" y="80.0" font-size="15.6" textLength="66.9" fill="#0000ff">度，北緯</text>
<text x="670.42" y="79.7" font-size="16.72" fill="#0000ff" text-anchor="start" font-weight="normal" stroke="#0000ff" stroke-width="0.45">25.04</text>
<text class="cjk" x="711.92" y="80.0" font-size="15.6" textLength="16.7" fill="#0000ff">度</text>
<text class="cjk" x="435.3" y="96.3" font-size="15.6" textLength="66.9" fill="#0000ff">震央距：</text>
<text x="502.38" y="96" font-size="16.72" fill="#0000ff" text-anchor="start" font-weight="normal" stroke="#0000ff" stroke-width="0.45">140.72</text>
<text class="cjk" x="553.18" y="96.3" font-size="15.6" textLength="133.8" fill="#0000ff">公里，反方位角：</text>
<text x="687.14" y="96" font-size="16.72" fill="#0000ff" text-anchor="start" font-weight="normal" stroke="#0000ff" stroke-width="0.45">177.83</text>
<text class="cjk" x="737.9399999999999" y="96.3" font-size="15.6" textLength="16.7" fill="#0000ff">度</text>
<text x="72.6" y="113.0" font-size="15.2" fill="#000000" text-anchor="end" font-weight="bold" letter-spacing="-0.4">0.4</text>
<text x="72.6" y="147.0" font-size="15.2" fill="#000000" text-anchor="end" font-weight="bold" letter-spacing="-0.4">0.2</text>
<text x="72.6" y="181.0" font-size="15.2" fill="#000000" text-anchor="end" font-weight="bold" letter-spacing="-0.4">0</text>
<text x="72.6" y="215.0" font-size="15.2" fill="#000000" text-anchor="end" font-weight="bold" letter-spacing="-0.4">-0.2</text>
<text x="72.6" y="249.0" font-size="15.2" fill="#000000" text-anchor="end" font-weight="bold" letter-spacing="-0.4">-0.4</text>
<text x="72.6" y="263.0" font-size="15.2" fill="#000000" text-anchor="end" font-weight="bold" letter-spacing="-0.4">0.6</text>
<text x="72.6" y="285.6666666666667" font-size="15.2" fill="#000000" text-anchor="end" font-weight="bold" letter-spacing="-0.4">0.4</text>
<text x="72.6" y="308.3333333333333" font-size="15.2" fill="#000000" text-anchor="end" font-weight="bold" letter-spacing="-0.4">0.2</text>
<text x="72.6" y="331.0" font-size="15.2" fill="#000000" text-anchor="end" font-weight="bold" letter-spacing="-0.4">0</text>
<text x="72.6" y="353.6666666666667" font-size="15.2" fill="#000000" text-anchor="end" font-weight="bold" letter-spacing="-0.4">-0.2</text>
<text x="72.6" y="376.3333333333333" font-size="15.2" fill="#000000" text-anchor="end" font-weight="bold" letter-spacing="-0.4">-0.4</text>
<text x="72.6" y="399.0" font-size="15.2" fill="#000000" text-anchor="end" font-weight="bold" letter-spacing="-0.4">-0.6</text>
<text x="72.6" y="413.0" font-size="15.2" fill="#000000" text-anchor="end" font-weight="bold" letter-spacing="-0.4">1</text>
<text x="72.6" y="447.0" font-size="15.2" fill="#000000" text-anchor="end" font-weight="bold" letter-spacing="-0.4">0.5</text>
<text x="72.6" y="481.0" font-size="15.2" fill="#000000" text-anchor="end" font-weight="bold" letter-spacing="-0.4">0</text>
<text x="72.6" y="515.0" font-size="15.2" fill="#000000" text-anchor="end" font-weight="bold" letter-spacing="-0.4">-0.5</text>
<text x="72.6" y="549.0" font-size="15.2" fill="#000000" text-anchor="end" font-weight="bold" letter-spacing="-0.4">-1</text>
<text x="80.6" y="563" font-size="15.2" fill="#000000" text-anchor="middle" font-weight="bold" letter-spacing="-0.5">0</text>
<text x="156.6" y="563" font-size="15.2" fill="#000000" text-anchor="middle" font-weight="bold" letter-spacing="-0.5">10</text>
<text x="231.6" y="563" font-size="15.2" fill="#000000" text-anchor="middle" font-weight="bold" letter-spacing="-0.5">20</text>
<text x="307.6" y="563" font-size="15.2" fill="#000000" text-anchor="middle" font-weight="bold" letter-spacing="-0.5">30</text>
<text x="382.6" y="563" font-size="15.2" fill="#000000" text-anchor="middle" font-weight="bold" letter-spacing="-0.5">40</text>
<text x="458.6" y="563" font-size="15.2" fill="#000000" text-anchor="middle" font-weight="bold" letter-spacing="-0.5">50</text>
<text x="534.6" y="563" font-size="15.2" fill="#000000" text-anchor="middle" font-weight="bold" letter-spacing="-0.5">60</text>
<text x="609.6" y="563" font-size="15.2" fill="#000000" text-anchor="middle" font-weight="bold" letter-spacing="-0.5">70</text>
<text x="685.6" y="563" font-size="15.2" fill="#000000" text-anchor="middle" font-weight="bold" letter-spacing="-0.5">80</text>
<path d="M80.5 107V244M76 107.5H81M76 141.5H81M76 175.5H81M76 209.5H81M76 243.5H81M80.5 257V394M76 257.5H81M76 280.1666666666667H81M76 302.8333333333333H81M76 325.5H81M76 348.1666666666667H81M76 370.8333333333333H81M76 393.5H81M80.5 407V544M76 407.5H81M76 441.5H81M76 475.5H81M76 509.5H81M76 543.5H81M80 543.5H761M80.5 543V548M156.5 543V548M231.5 543V548M307.5 543V548M382.5 543V548M458.5 543V548M534.5 543V548M609.5 543V548M685.5 543V548" stroke="#000" stroke-width="1" fill="none" shape-rendering="crispEdges"/>
<text x="93.5" y="122.5" font-size="16.67" fill="#ff0000" text-anchor="start" font-weight="normal" stroke="#ff0000" stroke-width="0.72" letter-spacing="-0.2">Z Max</text>
<text x="93.5" y="142.5" font-size="16.67" fill="#ff0000" text-anchor="start" font-weight="normal" stroke="#ff0000" stroke-width="0.72" letter-spacing="0.25">0.39 gal</text>
<text x="93.5" y="272.5" font-size="16.67" fill="#ff0000" text-anchor="start" font-weight="normal" stroke="#ff0000" stroke-width="0.72" letter-spacing="0.1">NS Max</text>
<text x="93.5" y="292.5" font-size="16.67" fill="#ff0000" text-anchor="start" font-weight="normal" stroke="#ff0000" stroke-width="0.72" letter-spacing="0.25">0.56 gal</text>
<text x="93.5" y="422.5" font-size="16.67" fill="#ff0000" text-anchor="start" font-weight="normal" stroke="#ff0000" stroke-width="0.72" letter-spacing="0.3">EW Max</text>
<text x="93.5" y="442.5" font-size="16.67" fill="#ff0000" text-anchor="start" font-weight="normal" stroke="#ff0000" stroke-width="0.72" letter-spacing="0.25">0.73 gal</text>
<text transform="translate(36 302.3) rotate(-90)" font-size="16.67" text-anchor="middle" stroke="#000" stroke-width="0.7" letter-spacing="0.35">acceleration</text>
<text x="400.5" y="585.8" font-size="16.67" fill="#000000" text-anchor="middle" font-weight="normal" stroke="#000000" stroke-width="0.7" letter-spacing="0.4">second</text>
<text class="cjk" x="656.3" y="588" font-size="17.6" textLength="92.0" fill="#a4a4a4">中央氣象署</text>
</svg>
</body></html>
